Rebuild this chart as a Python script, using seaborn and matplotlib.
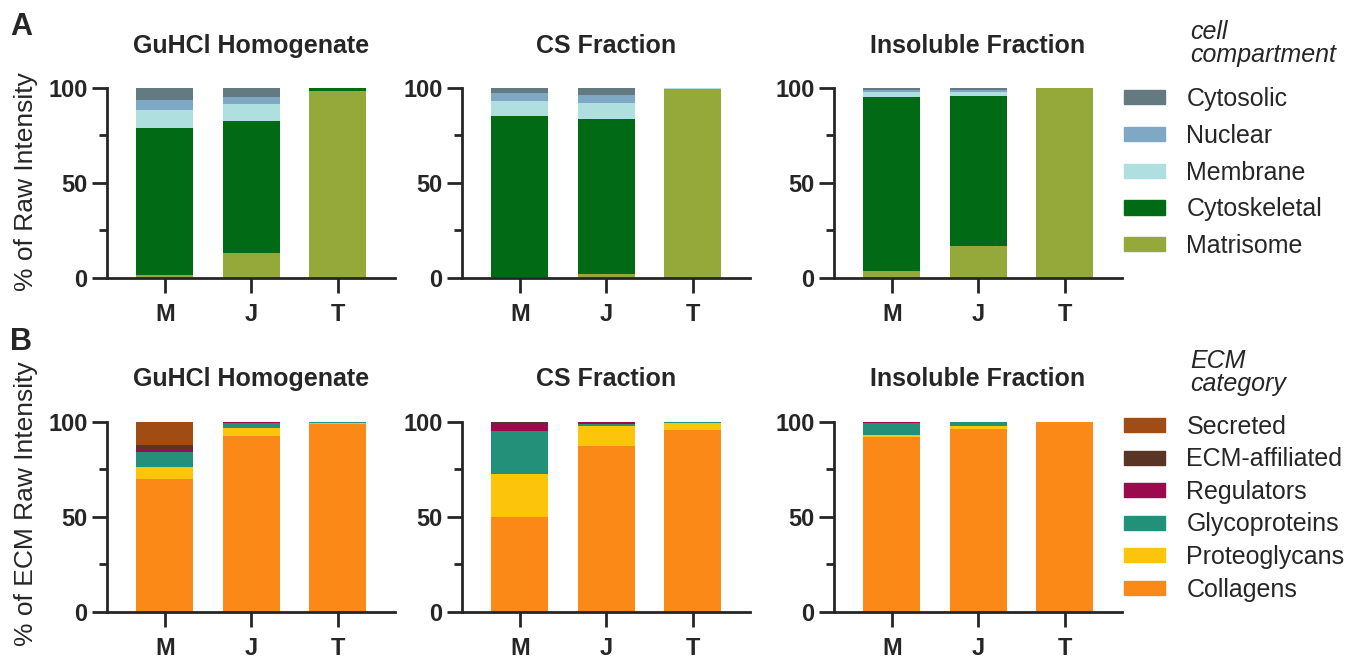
import numpy as np
import pandas as pd
import matplotlib
matplotlib.use("Agg")
import matplotlib.pyplot as plt
import seaborn as sns
from matplotlib.patches import Patch
from matplotlib.ticker import MultipleLocator

ages = ["M", "J", "T"]
fractions = ["GuHCl Homogenate", "CS Fraction", "Insoluble Fraction"]

# panel A, stacking order bottom -> top
compartments = ["Matrisome", "Cytoskeletal", "Membrane", "Nuclear", "Cytosolic"]
compartment_colors = ["#95a93a", "#016a15", "#b0dfe0", "#7fa8c4", "#637a80"]

# values per compartment, columns M, J, T
guhcl_comp = [[1.5, 13.3, 98.6], [77.3, 69.5, 1.2], [9.6, 8.6, 0.1], [5.3, 3.7, 0.05], [6.3, 4.9, 0.05]]
cs_comp = [[0.5, 2.3, 99.3], [85.0, 81.5, 0.4], [7.4, 8.3, 0.1], [4.6, 4.3, 0.1], [2.5, 3.6, 0.1]]
insol_comp = [[3.5, 17.0, 99.8], [91.9, 78.7, 0.1], [2.5, 2.3, 0.05], [1.1, 1.2, 0.03], [1.0, 0.8, 0.02]]

# panel B, stacking order bottom -> top
ecm_cats = ["Collagens", "Proteoglycans", "Glycoproteins", "Regulators", "ECM-affiliated", "Secreted"]
ecm_colors = ["#fb8918", "#fcc40a", "#23917a", "#9b0a4d", "#5a3526", "#a14c12"]

guhcl_ecm = [[69.6, 92.5, 99.0], [6.7, 4.0, 0.4], [7.5, 3.0, 0.5], [1.8, 0.3, 0.05], [2.1, 0.1, 0.03], [12.3, 0.1, 0.02]]
cs_ecm = [[49.6, 87.2, 95.8], [23.1, 10.8, 3.7], [22.6, 0.8, 0.3], [3.6, 1.0, 0.1], [0.9, 0.1, 0.05], [0.2, 0.1, 0.05]]
insol_ecm = [[91.8, 96.4, 99.6], [1.2, 1.4, 0.1], [6.5, 1.9, 0.3], [0.3, 0.2, 0.0], [0.1, 0.05, 0.0], [0.1, 0.05, 0.0]]

sns.set_style("ticks")
plt.rcParams['font.family'] = ['Liberation Sans', 'DejaVu Sans']

W, H = 1356, 658
fig = plt.figure(figsize=(W / 100, H / 100), dpi=100)

lefts = [107, 462, 834]
ax_w = 288
ax_h = 190


def stacked(ax, data, cats, colors):
    df = pd.DataFrame(np.array(data).T, columns=cats)
    df["age"] = ages
    cum = df[cats].cumsum(axis=1)
    # draw tallest first so lower segments sit on top
    for cat, col in reversed(list(zip(cats, colors))):
        sns.barplot(x=df["age"], y=cum[cat], color=col, width=0.66,
                    saturation=1, linewidth=0, ax=ax, order=ages)


def style_axis(ax, title, pad):
    ax.set_ylim(0, 100)
    ax.set_xlim(-0.67, 2.66)
    ax.yaxis.set_major_locator(MultipleLocator(50))
    ax.yaxis.set_minor_locator(MultipleLocator(25))
    sns.despine(ax=ax)
    for s in ["left", "bottom"]:
        ax.spines[s].set_linewidth(2.0)
    ax.tick_params(which="major", length=11, width=2.0, labelsize=17, pad=3)
    ax.tick_params(which="minor", length=6, width=2.0)
    ax.tick_params(axis="x", pad=7)
    for lab in ax.get_xticklabels() + ax.get_yticklabels():
        lab.set_fontweight("bold")
    ax.set_xlabel("")
    ax.set_ylabel("")
    ax.set_title(title, fontsize=18, fontweight="bold", pad=pad)


axes_a, axes_b = [], []
for i, (frac, comp, ecm) in enumerate(zip(fractions, [guhcl_comp, cs_comp, insol_comp],
                                          [guhcl_ecm, cs_ecm, insol_ecm])):
    axa = fig.add_axes([lefts[i] / W, (H - 278) / H, ax_w / W, ax_h / H])
    stacked(axa, comp, compartments, compartment_colors)
    style_axis(axa, frac, 25)
    axes_a.append(axa)

    axb = fig.add_axes([lefts[i] / W, (H - 611.7) / H, ax_w / W, ax_h / H])
    stacked(axb, ecm, ecm_cats, ecm_colors)
    style_axis(axb, frac, 26)
    axes_b.append(axb)

axes_a[0].set_ylabel("% of Raw Intensity", fontsize=19)
axes_a[0].yaxis.set_label_coords(-0.24, 0.51)
axes_b[0].set_ylabel("% of ECM Raw Intensity", fontsize=19)
axes_b[0].yaxis.set_label_coords(-0.24, 0.57)

fig.text(10 / W, 1 - 35 / H, "A", fontsize=22, fontweight="bold")
fig.text(10 / W, 1 - 350 / H, "B", fontsize=22, fontweight="bold")

# legends
fig.text(1190 / W, 1 - 62 / H, "cell\ncompartment", fontsize=18, style="italic",
         linespacing=0.95)
handles_a = [Patch(color=c, label=l) for l, c in zip(compartments[::-1], compartment_colors[::-1])]
fig.legend(handles=handles_a, loc="upper left", bbox_to_anchor=(1124 / W, 1 - 87 / H),
           frameon=False, fontsize=18, handlelength=1.65, handleheight=0.5,
           handletextpad=0.85, labelspacing=0.51, borderpad=0, borderaxespad=0)

fig.text(1190 / W, 1 - 391 / H, "ECM\ncategory", fontsize=18, style="italic",
         linespacing=0.95)
handles_b = [Patch(color=c, label=l) for l, c in zip(ecm_cats[::-1], ecm_colors[::-1])]
fig.legend(handles=handles_b, loc="upper left", bbox_to_anchor=(1124 / W, 1 - 415 / H),
           frameon=False, fontsize=18, handlelength=1.65, handleheight=0.5,
           handletextpad=0.85, labelspacing=0.34, borderpad=0, borderaxespad=0)

fig.savefig("out.png", dpi=100)
